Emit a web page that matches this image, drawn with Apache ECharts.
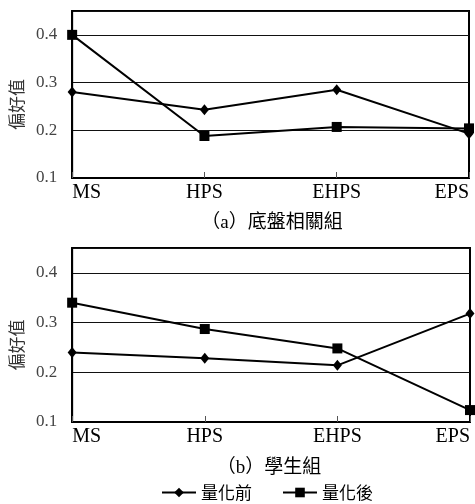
<!DOCTYPE html>
<html><head><meta charset="utf-8">
<script src="https://cdn.jsdelivr.net/npm/echarts@6/dist/echarts.min.js"></script>
<style>html,body{margin:0;padding:0;background:#fff}#c{width:475px;height:504px}</style>
</head><body><div id="c"></div>
<script>
const categories = ['MS', 'HPS', 'EHPS', 'EPS'];
const chassisBefore = [0.280, 0.243, 0.285, 0.193];
const chassisAfter  = [0.400, 0.188, 0.207, 0.204];
const studentBefore = [0.240, 0.228, 0.214, 0.318];
const studentAfter  = [0.340, 0.287, 0.248, 0.124];
const seriesNames = ['量化前', '量化後'];
const captions = ['（a）底盤相關組', '（b）學生組'];
const yName = '偏好值';

const serif = '"Liberation Serif", "Times New Roman", serif';
const cjk = '"Liberation Serif", "Noto Sans CJK TC", serif';

function xAxis(gi) {
  return {
    type: 'category', gridIndex: gi, data: categories, boundaryGap: false,
    axisLine: { lineStyle: { color: '#000', width: 2 } },
    axisTick: { show: true, inside: true, length: 6, lineStyle: { color: '#555', width: 1 } },
    axisLabel: { color: '#000', fontFamily: serif, fontSize: 20, margin: 5,
                 alignMinLabel: 'left', alignMaxLabel: 'right', interval: 0 },
    splitLine: { show: false }
  };
}
function yAxis(gi) {
  return {
    type: 'value', gridIndex: gi, min: 0.1, max: 0.45, interval: 0.1,
    name: yName, nameLocation: 'middle', nameGap: 40, nameRotate: 90,
    nameTextStyle: { fontFamily: '"Noto Sans CJK TC", sans-serif', fontSize: 17, color: '#333', padding: [0, 20, 0, 0] },
    axisLine: { show: true, lineStyle: { color: '#000', width: 2 } },
    axisTick: { show: false },
    axisLabel: { color: '#444', fontFamily: serif, fontSize: 17, margin: 15, showMaxLabel: false,
                 formatter: v => v.toFixed(1) },
    splitLine: { show: true, lineStyle: { color: '#111', width: 1 } }
  };
}
function line(name, data, gi, sym) {
  return {
    name: name, type: 'line', xAxisIndex: gi, yAxisIndex: gi, data: data,
    symbol: sym, symbolSize: sym === 'diamond' ? [9, 11] : 10,
    lineStyle: { color: '#000', width: 2 }, itemStyle: { color: '#000' },
    emphasis: { disabled: true }, animation: false, clip: false
  };
}

const chart = echarts.init(document.getElementById('c'), null, { renderer: 'canvas' });
chart.setOption({
  animation: false,
  backgroundColor: '#fff',
  title: [
    { text: captions[0], left: 267, top: 209, textAlign: 'center',
      textStyle: { fontFamily: cjk, fontSize: 19, fontWeight: 'normal', color: '#000' } },
    { text: captions[1], left: 264, top: 454, textAlign: 'center',
      textStyle: { fontFamily: cjk, fontSize: 19, fontWeight: 'normal', color: '#000' } }
  ],
  legend: {
    data: seriesNames, left: 156, top: 479, itemWidth: 34, itemHeight: 12, itemGap: 30,
    textStyle: { fontFamily: '"Noto Sans CJK TC", sans-serif', fontSize: 17, color: '#000' }
  },
  grid: [
    { left: 70, top: 11, width: 399, height: 167, show: true, borderColor: '#000', borderWidth: 2, backgroundColor: 'transparent' },
    { left: 71, top: 248, width: 399, height: 174, show: true, borderColor: '#000', borderWidth: 2, backgroundColor: 'transparent' }
  ],
  xAxis: [xAxis(0), xAxis(1)],
  yAxis: [yAxis(0), yAxis(1)],
  series: [
    line(seriesNames[0], chassisBefore, 0, 'diamond'),
    line(seriesNames[1], chassisAfter, 0, 'rect'),
    line(seriesNames[0], studentBefore, 1, 'diamond'),
    line(seriesNames[1], studentAfter, 1, 'rect')
  ]
});
</script></body></html>
